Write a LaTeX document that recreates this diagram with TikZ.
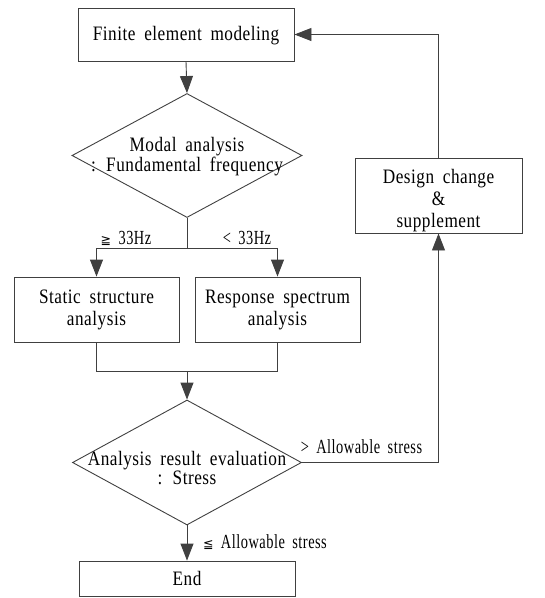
\documentclass[tikz,border=0pt]{standalone}
\usepackage{fontspec}
\setmainfont{Liberation Serif}[FakeStretch=0.84, LetterSpace=2.5, WordSpace=1.8]
\newfontfamily\lblfont{Liberation Serif}[FakeStretch=0.72, LetterSpace=2.5, WordSpace=1.8]
\newfontfamily\symfont{DejaVu Sans}
\usetikzlibrary{shapes.geometric,arrows.meta}
\tikzset{
  boxnode/.style={draw=black!75, line width=0.9pt, rectangle, inner sep=0pt, align=center},
  dianode/.style={draw=black!75, line width=0.9pt, diamond, inner sep=0pt},
  txt/.style={inner sep=0pt, align=center},
  lbl/.style={inner sep=0pt, font=\lblfont\fontsize{20}{22}\selectfont},
  conn/.style={draw=black!75, line width=0.9pt},
  arr/.style={conn, -{Triangle[width=13pt,length=17pt]}},
}
\begin{document}
\begin{tikzpicture}[x=1pt,y=-1pt,font=\fontsize{20.5}{22}\selectfont]
\useasboundingbox (0,0) rectangle (545,598);
\node[boxnode, minimum width=216pt, minimum height=53pt] (fem) at (186,34.5) {};
\node[txt] (femtxt) at (186,36) {Finite element modeling};
\node[dianode, minimum width=230pt, minimum height=124pt] (modal) at (187,155.5) {};
\node[txt, font=\fontsize{20.5}{17}\selectfont] (modaltxt) at (187,157) {Modal analysis\\: Fundamental frequency};
\coordinate (split) at (187,248);
\node[boxnode, minimum width=165pt, minimum height=65pt] (static) at (96.5,309.5) {Static structure\\analysis};
\node[boxnode, minimum width=165pt, minimum height=65pt] (resp) at (277.5,309.5) {Response spectrum\\analysis};
\coordinate (merge) at (187,371);
\node[dianode, minimum width=229pt, minimum height=125pt] (eval) at (187,462.5) {};
\node[txt, font=\fontsize{20.5}{17}\selectfont] (evaltxt) at (187,468) {Analysis result evaluation\\: Stress};
\node[boxnode, minimum width=216pt, minimum height=35pt] (end) at (187,578.5) {End};
\node[boxnode, minimum width=167pt, minimum height=75pt] (design) at (438.5,195.5) {};
\node[txt] (designtxt) at (438.5,201) {Design change\\\&\\supplement};
\node[lbl] (lge) at (126,238) {{\symfont\fontsize{12.5}{15}\selectfont ≧} 33Hz};
\node[lbl] (llt) at (247,238) {< 33Hz};
\node[lbl] (lgt) at (361.5,447) {> Allowable stress};
\node[lbl] (lle) at (265,542) {{\symfont\fontsize{12.5}{15}\selectfont ≦} Allowable stress};
\draw[arr] (fem.south) -- (modal.north);
\draw[conn] (modal.south) -- (split);
\draw[arr] (split) -| (static.north);
\draw[arr] (split) -| (resp.north);
\draw[conn] (static.south) |- (merge);
\draw[conn] (resp.south) |- (merge);
\draw[arr] (merge) -- (eval.north);
\draw[arr] (eval.south) -- (end.north);
\draw[arr] (eval.east) -| (design.south);
\draw[arr] (design.north) |- (fem.east);
\end{tikzpicture}
\end{document}
